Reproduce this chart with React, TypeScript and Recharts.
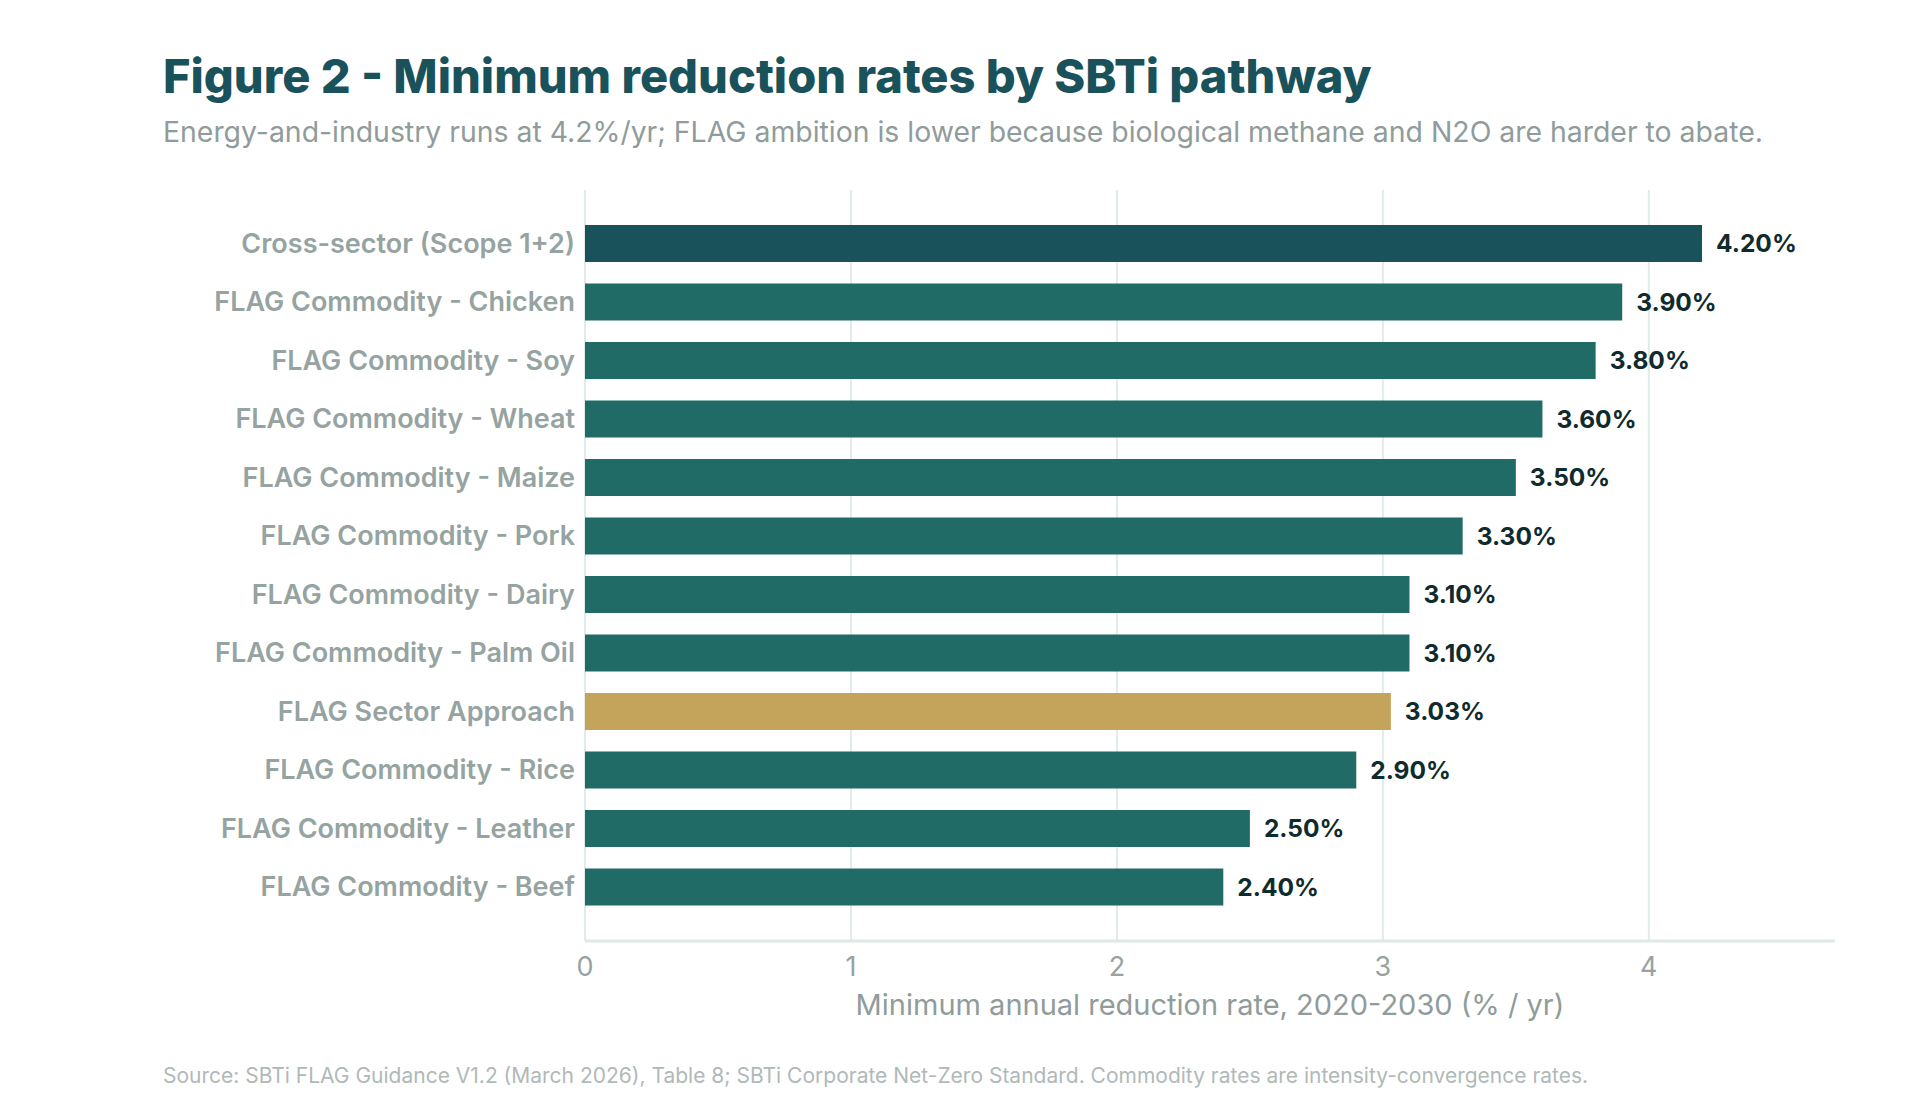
import React from "react";
import {
  BarChart,
  Bar,
  XAxis,
  YAxis,
  CartesianGrid,
  Cell,
  LabelList,
} from "recharts";

const categories: string[] = [
  "Cross-sector (Scope 1+2)",
  "FLAG Commodity - Chicken",
  "FLAG Commodity - Soy",
  "FLAG Commodity - Wheat",
  "FLAG Commodity - Maize",
  "FLAG Commodity - Pork",
  "FLAG Commodity - Dairy",
  "FLAG Commodity - Palm Oil",
  "FLAG Sector Approach",
  "FLAG Commodity - Rice",
  "FLAG Commodity - Leather",
  "FLAG Commodity - Beef",
];

const rates: number[] = [4.2, 3.9, 3.8, 3.6, 3.5, 3.3, 3.1, 3.1, 3.03, 2.9, 2.5, 2.4];

const barColors: string[] = [
  "#1a525b",
  "#206b65",
  "#206b65",
  "#206b65",
  "#206b65",
  "#206b65",
  "#206b65",
  "#206b65",
  "#c4a35a",
  "#206b65",
  "#206b65",
  "#206b65",
];

const xTicks: number[] = [0, 1, 2, 3, 4];
const xMax = 4.7;

const data = categories.map((name, i) => ({ name, rate: rates[i] }));

const FONT = "Inter, 'Open Sans', sans-serif";

// grid lines only at the tick values, not at the right edge of the plot
const gridAtTicks = (props: any) => {
  const { offset } = props;
  return xTicks.map((t) => offset.left + (t / xMax) * offset.width);
};

const App: React.FC = () => {
  return (
    <div
      style={{
        position: "absolute",
        left: 0,
        top: 0,
        width: 1920,
        height: 1120,
        background: "#ffffff",
        fontFamily: FONT,
        overflow: "hidden",
      }}
    >
      <div
        style={{
          position: "absolute",
          left: 163,
          top: 47,
          fontSize: 47,
          fontWeight: 800,
          color: "#1a525b",
          whiteSpace: "nowrap",
        }}
      >
        Figure 2 - Minimum reduction rates by SBTi pathway
      </div>
      <div
        style={{
          position: "absolute",
          left: 163,
          top: 114,
          fontSize: 28.4,
          color: "#8f9c9b",
          whiteSpace: "nowrap",
        }}
      >
        Energy-and-industry runs at 4.2%/yr; FLAG ambition is lower because biological methane and N2O are harder to abate.
      </div>

      <div style={{ position: "absolute", left: 0, top: 0 }}>
        <BarChart
          width={1920}
          height={1120}
          data={data}
          layout="vertical"
          margin={{ top: 190, right: 85, bottom: 89, left: 0 }}
        >
          <CartesianGrid
            horizontal={false}
            stroke="#e3ebea"
            strokeWidth={2}
            verticalCoordinatesGenerator={gridAtTicks}
          />
          <XAxis
            type="number"
            domain={[0, xMax]}
            ticks={xTicks}
            allowDataOverflow
            tickLine={false}
            axisLine={{ stroke: "#dfe9e8", strokeWidth: 3 }}
            tick={{ fill: "#97a3a2", fontSize: 27, fontFamily: FONT }}
            tickMargin={10}
            height={90}
            label={{
              value: "Minimum annual reduction rate, 2020-2030 (% / yr)",
              position: "insideBottom",
              offset: 16,
              fill: "#8f9c9b",
              fontSize: 29,
              fontFamily: FONT,
            }}
          />
          <YAxis
            type="category"
            dataKey="name"
            width={585}
            tickLine={false}
            tickSize={0}
            tickMargin={10}
            axisLine={false}
            padding={{ top: 24, bottom: 25 }}
            tick={{ fill: "#95a3a1", fontSize: 27, fontWeight: 600, fontFamily: FONT }}
            interval={0}
          />
          <Bar dataKey="rate" barSize={37} isAnimationActive={false}>
            {data.map((entry, i) => (
              <Cell key={entry.name} fill={barColors[i]} />
            ))}
            <LabelList
              dataKey="rate"
              position="right"
              offset={14}
              formatter={(v: number) => `${v.toFixed(2)}%`}
              style={{ fill: "#0f2b2d", fontSize: 24.5, fontWeight: 700, fontFamily: FONT }}
            />
          </Bar>
        </BarChart>
      </div>

      <div
        style={{
          position: "absolute",
          left: 163,
          top: 1063,
          fontSize: 21,
          color: "#b0b9b8",
          whiteSpace: "nowrap",
        }}
      >
        Source: SBTi FLAG Guidance V1.2 (March 2026), Table 8; SBTi Corporate Net-Zero Standard. Commodity rates are intensity-convergence rates.
      </div>
    </div>
  );
};

export default App;
